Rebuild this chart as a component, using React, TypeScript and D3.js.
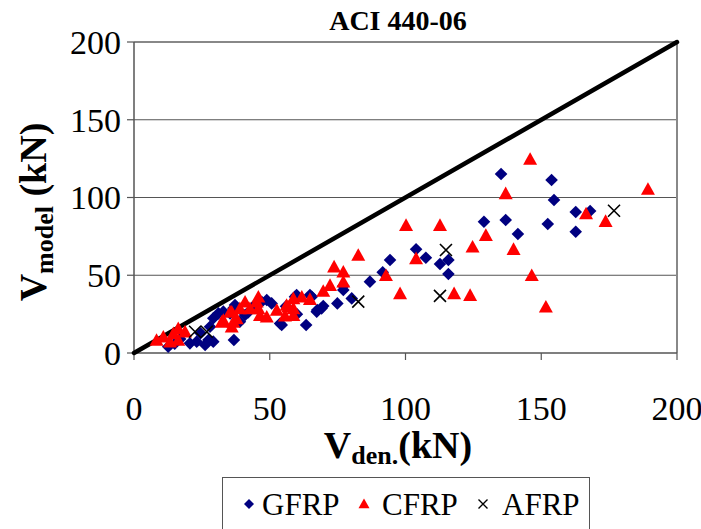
import React from "react";
import * as d3 from "d3";

const title = "ACI 440-06";
const xTicks = [0, 50, 100, 150, 200];
const yTicks = [0, 50, 100, 150, 200];

const gfrpX = [135.2, 153.8, 154.7, 128.9, 136.9, 141.4, 152.4, 162.7, 168, 162.7,
  103.9, 107.5, 112.7, 115.8, 115.8, 94.3, 91.6, 86.9, 77.1, 80.2, 74.9,
  67.5, 69.7, 59.3, 65.5, 77.1,
  37.2, 36.8, 54.4, 63.4, 59.9, 64.8, 69.1, 67.3, 50.7, 40.9, 39, 47,
  12.6, 23.1, 27.4, 28, 29.2, 31.1, 32.9, 24.5, 20.6, 35.4, 26.2, 36.6, 53.8, 48.9, 29.2, 44, 42, 17, 15, 56, 60];
const gfrpY = [115.1, 111.3, 98.4, 84.4, 85.5, 76.5, 83, 90.7, 91.3, 78,
  66.7, 61.3, 57.2, 59.8, 50.8, 59.8, 51.9, 45.9, 40.5, 35.1, 31.9,
  27.7, 30.2, 36.2, 36.2, 43.1,
  30.9, 8.4, 18, 18, 37.3, 37.3, 28.7, 26.6, 31.9, 24.4, 20.1, 33,
  4, 7.3, 8.4, 16.9, 22.3, 25.5, 26.6, 12.7, 6.2, 25.5, 5.1, 28.7, 19, 34.1, 7.3, 30, 26, 9, 6, 30, 25];

const cfrpX = [145.9, 136.9, 189.3, 166.5, 173.7, 129.6, 124.7, 139.8, 146.5, 151.7, 123.8,
  100.2, 112.7, 82.6, 103.9, 92.8, 98, 117.9, 77.1, 73.7, 77.1, 72.2,
  61.8, 58.7, 64.8, 56.2, 58.7, 69.7,
  45.8, 45.8, 46.4, 48.9, 40.9, 36.6, 36, 52.6, 56.8, 58.7, 55.6, 42.7, 39, 45.2,
  8.3, 10.8, 14.5, 16.3, 18.8, 13.3, 16.3, 32.9, 36, 37.8, 32.3, 35.4];
const cfrpY = [123.7, 101.6, 104.4, 88.7, 83.8, 74.8, 67.3, 65.8, 49, 28.7, 36.2,
  81.2, 81.2, 62, 59.8, 49, 37.3, 37.3, 51.2, 54.5, 44.8, 42.6,
  35.1, 34.1, 33.6, 29.8, 27.7, 38.8,
  35.1, 27.7, 23.3, 22.3, 31.9, 19, 25.5, 26.6, 28.7, 23.3, 23, 27.7, 27.7, 31.9,
  7.3, 9.4, 11.6, 14.8, 12.7, 6.2, 7.3, 20.1, 15.9, 21.2, 19, 25.5];

const afrpX = [176.8, 114.9, 112.7, 82.6, 22.5, 26.8];
const afrpY = [91.5, 66.2, 36.7, 33, 13.7, 13.7];

const lineX = [0, 200];
const lineY = [0, 200];

const legendLabels = ["GFRP", "CFRP", "AFRP"];

const FONT = "Liberation Serif, Times New Roman, Times, DejaVu Serif, serif";
const NAVY = "#000080";
const RED = "#ff0000";

const diamond = (r: number) => `M0,${-r}L${r},0L0,${r}L${-r},0Z`;
const triangle = (w: number) => {
  const h = w * 0.9;
  return `M0,${-h * 2 / 3}L${w / 2},${h / 3}L${-w / 2},${h / 3}Z`;
};
const cross = (r: number) => `M${-r},${-r}L${r},${r}M${-r},${r}L${r},${-r}`;

export default function App() {
  const left = 134, right = 677, top = 42, bottom = 353;
  const x = d3.scaleLinear().domain([0, 200]).range([left, right]);
  const y = d3.scaleLinear().domain([0, 200]).range([bottom, top]);
  const line = d3.line<number>().x((_, i) => x(lineX[i])).y((d) => y(d));
  const tf = { fontFamily: FONT };

  return (
    <svg width={701} height={529} style={{ position: "absolute", left: 0, top: 0, background: "#fff", fontFamily: FONT }}>
      <rect x={0} y={0} width={701} height={529} fill="#fff" />
      {yTicks.slice(1).map((t) => (
        <line key={"g" + t} x1={left} x2={right} y1={y(t)} y2={y(t)} stroke="#555" strokeWidth={1.2} />
      ))}
      <line x1={right} x2={right} y1={top} y2={bottom} stroke="#888" strokeWidth={2} />
      <line x1={left} x2={right} y1={top} y2={top} stroke="#888" strokeWidth={2} />
      <line x1={left} x2={left} y1={top} y2={bottom} stroke="#555" strokeWidth={1.5} />
      <line x1={left} x2={right} y1={bottom} y2={bottom} stroke="#555" strokeWidth={1.5} />
      {yTicks.map((t) => (
        <g key={"yt" + t}>
          <line x1={left - 7} x2={left} y1={y(t)} y2={y(t)} stroke="#555" strokeWidth={1.2} />
          <text x={121} y={y(t)} dy="0.35em" textAnchor="end" style={tf} fontSize={34}>{t}</text>
        </g>
      ))}
      {xTicks.map((t) => (
        <g key={"xt" + t}>
          <line x1={x(t)} x2={x(t)} y1={bottom} y2={bottom + 7} stroke="#555" strokeWidth={1.2} />
          <text x={x(t)} y={420} textAnchor="middle" style={tf} fontSize={34}>{t}</text>
        </g>
      ))}
      <path d={line(lineY) || ""} fill="none" stroke="#000" strokeWidth={4.5} strokeLinecap="round" />
      {gfrpX.map((v, i) => (
        <path key={"gf" + i} d={diamond(6.3)} transform={`translate(${x(v)},${y(gfrpY[i])})`} fill={NAVY} />
      ))}
      {cfrpX.map((v, i) => (
        <path key={"cf" + i} d={triangle(14)} transform={`translate(${x(v)},${y(cfrpY[i])})`} fill={RED} />
      ))}
      {afrpX.map((v, i) => (
        <path key={"af" + i} d={cross(6)} transform={`translate(${x(v)},${y(afrpY[i])})`} fill="none" stroke="#000" strokeWidth={1.6} />
      ))}
      <text x={398} y={30} textAnchor="middle" style={tf} fontSize={28} fontWeight="bold">{title}</text>
      <text transform="translate(46,212) rotate(-90)" textAnchor="middle" style={tf} fontSize={38} fontWeight="bold">
        V<tspan fontSize={26} dy={7}>model</tspan><tspan dy={-7}> (kN)</tspan>
      </text>
      <text x={398} y={458} textAnchor="middle" style={tf} fontSize={38} fontWeight="bold">
        V<tspan fontSize={26} dy={6}>den.</tspan><tspan dy={-6}>(kN)</tspan>
      </text>
      <rect x={222.5} y={477.5} width={367} height={52} fill="#fff" stroke="#555" strokeWidth={1} />
      <path d={diamond(5)} transform="translate(249,504)" fill={NAVY} />
      <text x={262} y={515} style={tf} fontSize={31}>{legendLabels[0]}</text>
      <path d={triangle(11)} transform="translate(364,505)" fill={RED} />
      <text x={382} y={515} style={tf} fontSize={31}>{legendLabels[1]}</text>
      <path d={cross(4.5)} transform="translate(483,504)" fill="none" stroke="#000" strokeWidth={1.4} />
      <text x={502} y={515} style={tf} fontSize={31}>{legendLabels[2]}</text>
    </svg>
  );
}
